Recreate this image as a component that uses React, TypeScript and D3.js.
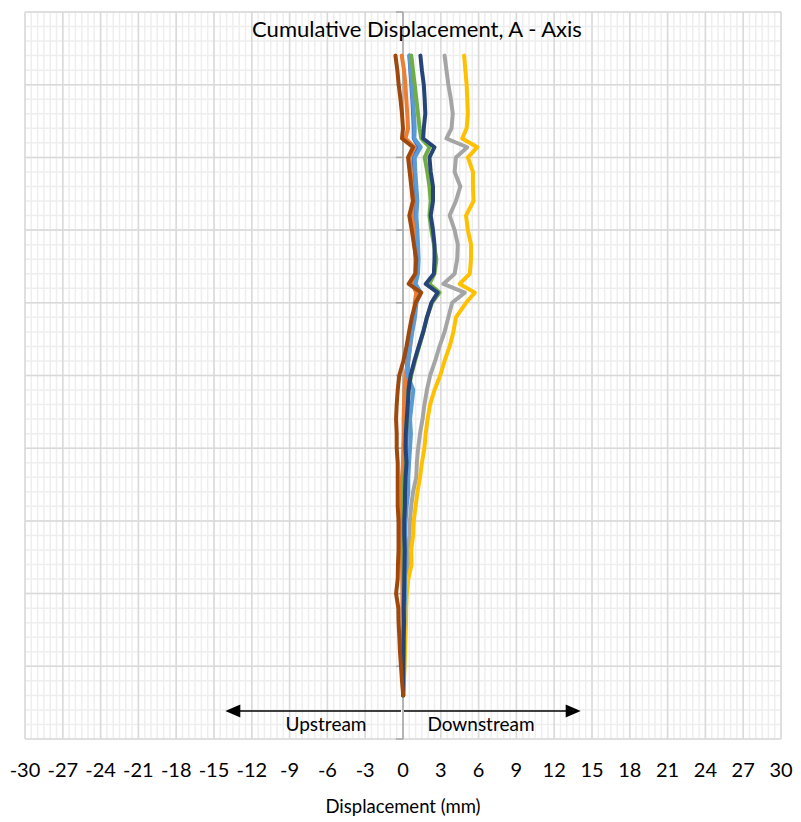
import React from 'react';
import * as d3 from 'd3';

const TITLE = 'Cumulative Displacement, A - Axis';
const X_LABEL = 'Displacement (mm)';
const UP_LABEL = 'Upstream';
const DOWN_LABEL = 'Downstream';

const xTicks = [-30, -27, -24, -21, -18, -15, -12, -9, -6, -3, 0, 3, 6, 9, 12, 15, 18, 21, 24, 27, 30];

// depth of each reading (top to bottom)
const depths = [3, 4, 5, 6, 7, 8, 8.7, 9.3, 10, 11, 12, 13, 14, 15, 16, 17, 18, 18.7, 19.3, 20, 21, 22, 23, 24, 25,
  26, 27, 28, 29, 30, 31, 32, 33, 34, 35, 36, 37, 38, 39, 40, 41, 42, 43, 44, 45, 46, 47];

const blueVals = [0.5, 0.58, 0.66, 0.74, 0.8, 0.85, 0.85, 1.25, 0.85, 0.9, 0.98, 1.05, 0.98, 1.05, 1.1, 1.15, 1.1, 0.95, 1.3, 1.0, 0.85, 0.68, 0.5, 0.35, 0.25,
  0.3, 0.35, 0.3, 0.3, 0.25, 0.3, 0.25, 0.2, 0.15, 0.12, 0.1, 0.1, 0.08, 0.1, 0.06, 0.05, 0.06, 0.04, 0.03, 0.02, 0.01, 0.0];
const orangeVals = [-0.1, 0.08, 0.19, 0.26, 0.34, 0.4, 0.2, 0.9, 0.53, 0.61, 0.71, 0.79, 0.71, 0.87, 0.93, 0.98, 0.98, 0.75, 1.05, 0.93, 0.9, 0.69, 0.56, 0.42, 0.21,
  0.12, 0.08, 0.05, 0.05, 0.02, 0.0, -0.08, -0.1, -0.12, -0.1, -0.1, -0.08, -0.08, -0.06, -0.05, -0.05, -0.04, -0.03, -0.02, -0.02, -0.01, 0.0];
const greyVals = [3.3, 3.45, 3.6, 3.8, 3.95, 3.85, 3.45, 5.1, 4.2, 4.1, 4.55, 4.2, 3.7, 4.1, 4.35, 4.3, 4.1, 3.2, 4.9, 3.9, 3.6, 3.3, 2.9, 2.55, 2.15,
  1.9, 1.7, 1.55, 1.35, 1.2, 1.1, 1.05, 0.8, 0.65, 0.55, 0.5, 0.42, 0.4, 0.3, 0.25, 0.2, 0.18, 0.15, 0.12, 0.1, 0.06, 0.02];
const goldVals = [4.85, 4.95, 5.05, 5.1, 5.15, 5.05, 4.7, 5.9, 5.15, 5.55, 5.55, 5.6, 5.0, 5.15, 5.4, 5.4, 5.3, 4.5, 5.7, 5.0, 4.2, 4.0, 3.7, 3.3, 2.95,
  2.5, 2.15, 1.95, 1.8, 1.7, 1.5, 1.35, 1.15, 1.0, 0.85, 0.8, 0.65, 0.68, 0.42, 0.3, 0.25, 0.24, 0.2, 0.16, 0.12, 0.08, 0.03];
const lightBlueVals = [0.53, 0.61, 0.71, 0.79, 0.87, 0.93, 0.9, 1.4, 0.93, 0.98, 1.06, 1.14, 1.06, 1.14, 1.19, 1.24, 1.19, 1.0, 1.4, 1.07, 0.95, 0.74, 0.56, 0.42, 0.37,
  0.82, 0.69, 0.56, 0.63, 0.56, 0.48, 0.42, 0.42, 0.29, 0.21, 0.16, 0.21, 0.2, 0.15, 0.18, 0.12, 0.1, 0.06, 0.05, 0.03, 0.02, 0.01];
const greenVals = [0.66, 0.79, 0.93, 1.06, 1.19, 1.32, 1.45, 2.1, 1.72, 1.93, 2.1, 2.2, 2.1, 2.25, 2.46, 2.65, 2.5, 2.1, 2.9, 2.3, 1.9, 1.62, 1.28, 0.95, 0.65,
  0.45, 0.35, 0.3, 0.25, 0.2, 0.18, 0.1, 0.05, 0.02, 0.0, 0.02, 0.05, 0.05, 0.05, 0.04, 0.03, 0.03, 0.02, 0.02, 0.01, 0.01, 0.0];
const darkBlueVals = [1.38, 1.5, 1.65, 1.72, 1.77, 1.65, 1.6, 2.5, 2.1, 2.2, 2.38, 2.38, 2.2, 2.38, 2.5, 2.5, 2.45, 1.8, 2.75, 2.25, 1.9, 1.6, 1.25, 0.9, 0.6,
  0.45, 0.38, 0.3, 0.22, 0.2, 0.28, 0.2, 0.16, 0.15, 0.1, 0.1, 0.14, 0.12, 0.1, 0.08, 0.06, 0.08, 0.05, 0.04, 0.03, 0.02, 0.01];
const brownVals = [-0.6, -0.45, -0.34, -0.2, -0.08, 0.0, -0.08, 0.8, 0.4, 0.53, 0.66, 0.79, 0.5, 0.7, 0.87, 1.05, 0.98, 0.45, 1.45, 1.0, 0.7, 0.48, 0.28, 0.03, -0.3,
  -0.42, -0.5, -0.55, -0.5, -0.5, -0.42, -0.42, -0.42, -0.42, -0.35, -0.35, -0.35, -0.4, -0.42, -0.55, -0.37, -0.35, -0.29, -0.24, -0.16, -0.08, 0.02];

const seriesNames = ['Reading 1', 'Reading 2', 'Reading 3', 'Reading 4', 'Reading 5', 'Reading 6', 'Reading 7', 'Reading 8'];
const seriesValues = [blueVals, orangeVals, greyVals, goldVals, lightBlueVals, greenVals, darkBlueVals, brownVals];
const seriesColors = ['#4472C4', '#ED7D31', '#A5A5A5', '#FFC000', '#5B9BD5', '#70AD47', '#264478', '#9E480E'];

const ARROW_EXTENT = 14.1; // mm, annotation arrows

const FONT = "Lato, 'Open Sans', sans-serif";

export default function App() {
  const W = 801;
  const H = 822;
  const left = 25, right = 781, top = 12, bottom = 739;
  const x = d3.scaleLinear().domain([-30, 30]).range([left, right]);
  const y = d3.scaleLinear().domain([0, 50]).range([top, bottom]);

  const minorX = d3.range(-30, 30.001, 0.5);
  const majorX = d3.range(-30, 30.001, 3);
  const minorY = d3.range(0, 50.001, 1);
  const majorY = d3.range(0, 50.001, 5);

  const line = d3.line<[number, number]>()
    .x((d) => x(d[1]))
    .y((d) => y(d[0]))
    .curve(d3.curveLinear);

  const arrowY = 711;
  const x0 = x(0);
  const xl = x(-ARROW_EXTENT);
  const xr = x(ARROW_EXTENT);
  const ah = 15, aw = 6.5;

  return (
    <svg width={W} height={H} style={{ position: 'absolute', left: 0, top: 0, background: '#fff' }}
      fontFamily={FONT}>
      <rect x={0} y={0} width={W} height={H} fill="#fff" />
      <g>
        {minorX.map((v, i) => (
          <line key={'mx' + i} x1={x(v)} x2={x(v)} y1={top} y2={bottom} stroke="#EEEEEE" strokeWidth={1.5} />
        ))}
        {minorY.map((v, i) => (
          <line key={'my' + i} x1={left} x2={right} y1={y(v)} y2={y(v)} stroke="#EEEEEE" strokeWidth={1.5} />
        ))}
        {majorX.map((v, i) => (
          <line key={'Mx' + i} x1={x(v)} x2={x(v)} y1={top} y2={bottom} stroke="#D9D9D9" strokeWidth={1.5} />
        ))}
        {majorY.map((v, i) => (
          <line key={'My' + i} x1={left} x2={right} y1={y(v)} y2={y(v)} stroke="#D9D9D9" strokeWidth={1.5} />
        ))}
      </g>
      {/* vertical axis at 0 */}
      <line x1={x0} x2={x0} y1={top} y2={bottom} stroke="#A6A6A6" strokeWidth={1.5} />
      {majorY.map((v, i) => (
        <line key={'t' + i} x1={x0 - 7} x2={x0} y1={y(v)} y2={y(v)} stroke="#A6A6A6" strokeWidth={1.5} />
      ))}
      {/* series */}
      <g fill="none" strokeLinejoin="round" strokeLinecap="round">
        {seriesValues.map((vals, si) => (
          <path key={seriesNames[si]}
            d={line(depths.map((d, i) => [d, vals[i]] as [number, number])) || ''}
            stroke={seriesColors[si]} strokeWidth={4} />
        ))}
      </g>
      {/* arrows */}
      <line x1={x0 - 2} x2={xl + ah - 1} y1={arrowY} y2={arrowY} stroke="#000" strokeWidth={1.4} />
      <path d={`M${xl},${arrowY} L${xl + ah},${arrowY - aw} L${xl + ah},${arrowY + aw} Z`} fill="#000" />
      <line x1={x0 + 1} x2={xr - ah + 1} y1={arrowY} y2={arrowY} stroke="#000" strokeWidth={1.4} />
      <path d={`M${xr},${arrowY} L${xr - ah},${arrowY - aw} L${xr - ah},${arrowY + aw} Z`} fill="#000" />
      <text x={326} y={731} textAnchor="middle" fontSize={19} fill="#000">{UP_LABEL}</text>
      <text x={481} y={731} textAnchor="middle" fontSize={19} fill="#000">{DOWN_LABEL}</text>
      {/* title */}
      <text x={417} y={37} textAnchor="middle" fontSize={22} fill="#000">{TITLE}</text>
      {/* x tick labels */}
      {xTicks.map((t) => (
        <text key={'xt' + t} x={x(t)} y={777} textAnchor="middle" fontSize={20} fill="#000">{t}</text>
      ))}
      <text x={403} y={813} textAnchor="middle" fontSize={18.5} fill="#000">{X_LABEL}</text>
    </svg>
  );
}
